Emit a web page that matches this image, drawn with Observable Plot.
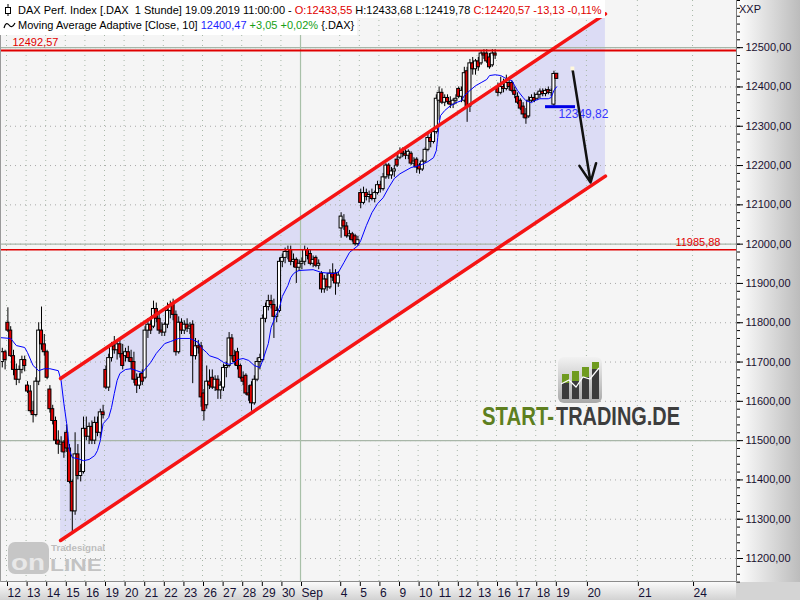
<!DOCTYPE html>
<html><head><meta charset="utf-8">
<script src="https://cdn.jsdelivr.net/npm/d3@7"></script>
<script src="https://cdn.jsdelivr.net/npm/@observablehq/plot@0.6"></script>
<style>
html,body{margin:0;padding:0;background:#fff;}
#wrap{position:relative;width:800px;height:600px;overflow:hidden;background:#f5f5f5;font-family:"Liberation Sans",Arial,sans-serif;}
.abs{position:absolute;}
.lg{position:absolute;left:0;background:#fff;font-size:11px;line-height:15px;color:#000;white-space:pre;padding-left:18px;padding-right:3px;}
</style></head>
<body>
<div id="wrap">
  <div class="abs" style="left:736px;top:0;width:64px;height:600px;background:linear-gradient(to right,#ffffff,#bcbcbc);"></div>
  <div class="abs" style="left:0;top:582px;width:736px;height:18px;background:linear-gradient(to bottom,#fbfbfb,#d2d2d2);"></div>
  <div class="abs" style="left:736px;top:582px;width:64px;height:18px;background:#d4d4d4;"></div>
  <div id="chart" class="abs" style="left:0;top:0;"></div>
  <div class="abs" style="left:736px;top:0;width:1px;height:583px;background:#7c7c7c;"></div>
  <div class="abs" style="left:0;top:581px;width:737px;height:1px;background:#8c8c8c;"></div>
  <div class="abs" style="left:0;top:0;width:1px;height:582px;background:#9a9a9a;"></div>
  <div class="lg" style="top:0;padding-top:3px;"><svg class="abs" style="left:3px;top:3px" width="10" height="14"><line x1="5" y1="1" x2="5" y2="13" stroke="#000"/><rect x="2.5" y="4.5" width="5" height="6" fill="#fff" stroke="#000"/></svg>DAX Perf. Index [.DAX  1 Stunde] 19.09.2019 11:00:00 - <span style="color:#e00000">O:12433,55</span> H:12433,68 L:12419,78 <span style="color:#e00000">C:12420,57 -13,13 -0,11%</span></div>
  <div class="lg" style="top:18px;padding-bottom:2px;"><svg class="abs" style="left:3px;top:3px" width="13" height="10"><path d="M1,7 Q3,0 6,4 T12,2" fill="none" stroke="#000" stroke-width="1.2"/></svg>Moving Average Adaptive [Close, 10] <span style="color:#1f1fff">12400,47</span> <span style="color:#16a016">+3,05 +0,02%</span> {.DAX}</div>
  <div class="abs" style="left:739px;top:3px;font-size:11px;color:#1a1030;">XXP</div>
  <svg class="abs" style="left:0;top:0;pointer-events:none" width="800" height="600">
    <defs>
      <linearGradient id="ig" x1="0" y1="0" x2="0" y2="1"><stop offset="0" stop-color="#f2f2f2"/><stop offset="1" stop-color="#a9a9a9"/></linearGradient>
    </defs>
    <rect x="558" y="357" width="44" height="46" rx="6" fill="url(#ig)"/>
    <rect x="562" y="374" width="7" height="9" fill="#6f9b1f"/><rect x="562" y="383" width="7" height="16" fill="#3b3b3b"/>
    <rect x="572" y="371" width="7" height="10" fill="#6f9b1f"/><rect x="572" y="381" width="7" height="18" fill="#3b3b3b"/>
    <rect x="582" y="367" width="7" height="10" fill="#6f9b1f"/><rect x="582" y="377" width="7" height="22" fill="#3b3b3b"/>
    <rect x="592" y="362" width="7" height="7" fill="#6f9b1f"/><rect x="592" y="369" width="7" height="30" fill="#3b3b3b"/>
    <polyline points="561,384 569,380 576,387 583,377 590,379 599,368" fill="none" stroke="#fff" stroke-width="1.2"/>
    <g transform="translate(482,425) scale(1,1.3)" font-family="Liberation Sans,Arial,sans-serif" font-weight="bold" font-size="20">
      <text x="0" y="0" fill="#5e7f1f" textLength="72" lengthAdjust="spacingAndGlyphs">START-</text>
      <text x="74" y="0" fill="#3d3d3d" textLength="124" lengthAdjust="spacingAndGlyphs">TRADING.DE</text>
    </g>
    <rect x="8" y="542" width="41" height="32" rx="7" fill="#c6c6c6"/>
    <text x="11" y="570" font-size="22" font-weight="bold" fill="#e8e8e8" font-family="Liberation Sans,Arial,sans-serif" textLength="34" lengthAdjust="spacingAndGlyphs">on</text>
    <text x="50" y="571" font-size="17" font-weight="bold" fill="#c3c3c3" font-family="Liberation Sans,Arial,sans-serif" textLength="52" lengthAdjust="spacingAndGlyphs">LINE</text>
    <text x="51" y="551" font-size="9" font-weight="bold" fill="#bdbdbd" font-family="Liberation Sans,Arial,sans-serif" textLength="54" lengthAdjust="spacingAndGlyphs">Tradesignal</text>
  </svg>
</div>
<script>
// ---- data (hourly candles, 7 per trading day, first two from 9 Aug) ----
const firstBar = -2;
const barsPerDay = 7;
const opens = [
 11700,11725,
 11800,11780,11715,11680,11655,11680,11705,
 11640,11625,11575,11565,11650,11780,11745,
 11725,11630,11580,11550,11500,11490,11495,
 11520,11480,11395,11320,11465,11410,11420,
 11530,11510,11535,11500,11545,11520,11572,
 11680,11635,11710,11740,11730,11745,11720,
 11715,11725,11710,11700,11655,11640,11670,
 11660,11780,11795,11790,11835,11810,11780,
 11775,11795,11830,11845,11820,11725,11800,
 11780,11795,11785,11795,11715,11740,11740,
 11620,11590,11650,11660,11635,11655,11628,
 11635,11685,11690,11760,11715,11725,11690,
 11660,11665,11620,11640,11595,11655,11700,
 11705,11810,11840,11855,11845,11815,11830,
 11955,11965,11980,11985,11955,11960,11940,
 11950,11955,11985,11975,11950,11965,11945,
 11925,11885,11910,11890,11925,11925,11900,
 12040,12060,12045,12020,12025,12020,12000,
 12130,12105,12130,12120,12125,12115,12130,
 12150,12140,12170,12200,12175,12185,12215,
 12220,12235,12230,12225,12230,12205,12215,
 12200,12190,12210,12240,12270,12260,12285,
 12365,12385,12360,12372,12362,12355,12365,
 12395,12375,12365,12440,12350,12460,12445,
 12465,12460,12485,12485,12475,12455,12485,
 12400,12385,12400,12395,12410,12410,12390,
 12375,12365,12350,12330,12325,12365,12372,
 12370,12380,12388,12382,12392,12385,12355,
 12433.55];
const highs = [
 11735,11730,
 11838,11790,11730,11695,11690,11715,11715,
 11650,11640,11600,11660,11800,11840,11770,
 11730,11640,11590,11560,11525,11510,11500,
 11540,11490,11400,11520,11490,11440,11560,
 11560,11545,11550,11560,11560,11580,11590,
 11690,11720,11750,11765,11750,11760,11745,
 11735,11740,11730,11725,11670,11670,11680,
 11790,11810,11815,11855,11850,11825,11800,
 11800,11850,11855,11860,11830,11815,11810,
 11805,11810,11800,11805,11760,11755,11750,
 11630,11690,11680,11680,11665,11665,11650,
 11695,11700,11775,11770,11730,11735,11695,
 11675,11670,11640,11650,11665,11710,11720,
 11820,11850,11870,11870,11860,11840,11965,
 11975,11990,11995,11995,11975,11965,11960,
 11965,11995,11990,11985,11970,11970,11960,
 11930,11920,11925,11935,11950,11935,11930,
 12080,12075,12055,12035,12030,12025,12020,
 12140,12145,12140,12135,12140,12135,12160,
 12160,12180,12205,12205,12195,12200,12225,
 12245,12245,12240,12240,12235,12220,12220,
 12205,12215,12245,12285,12280,12295,12380,
 12400,12395,12380,12380,12375,12370,12380,
 12400,12400,12450,12450,12470,12475,12470,
 12475,12490,12495,12495,12485,12495,12495,
 12410,12425,12420,12430,12420,12415,12400,
 12385,12370,12360,12345,12375,12380,12385,
 12385,12395,12395,12395,12400,12395,12440,
 12433.68];
const lows = [
 11685,11680,
 11775,11712,11665,11640,11645,11670,11675,
 11620,11570,11545,11560,11640,11730,11715,
 11655,11570,11540,11490,11465,11470,11455,
 11470,11390,11265,11310,11400,11395,11415,
 11500,11490,11490,11490,11510,11505,11555,
 11630,11625,11700,11720,11705,11710,11680,
 11700,11700,11680,11645,11620,11630,11640,
 11655,11760,11770,11785,11800,11770,11765,
 11765,11785,11810,11805,11715,11720,11770,
 11770,11775,11770,11645,11705,11720,11585,
 11550,11580,11630,11630,11625,11605,11605,
 11625,11660,11685,11705,11690,11680,11655,
 11640,11615,11600,11575,11590,11650,11680,
 11700,11800,11830,11835,11760,11800,11825,
 11940,11950,11960,11945,11940,11900,11930,
 11935,11945,11960,11945,11940,11940,11935,
 11875,11875,11880,11885,11905,11870,11890,
 12015,12035,12015,12010,12005,11995,11995,
 12090,12100,12110,12105,12110,12105,12125,
 12130,12135,12165,12165,12165,12170,12195,
 12215,12220,12215,12215,12200,12195,12180,
 12178,12185,12205,12235,12245,12255,12280,
 12315,12355,12350,12355,12345,12345,12355,
 12370,12360,12360,12310,12335,12430,12430,
 12440,12455,12470,12460,12445,12450,12470,
 12375,12380,12385,12390,12390,12385,12370,
 12355,12340,12320,12305,12320,12360,12360,
 12365,12370,12375,12375,12380,12375,12350,
 12419.78];
const closes = [
 11725,11705,
 11780,11715,11680,11655,11680,11705,11690,
 11625,11575,11565,11650,11780,11745,11725,
 11660,11580,11550,11500,11490,11495,11470,
 11480,11395,11320,11465,11410,11420,11530,
 11510,11535,11500,11545,11520,11572,11565,
 11635,11710,11740,11730,11745,11720,11690,
 11725,11710,11700,11655,11640,11660,11650,
 11780,11795,11780,11835,11810,11780,11775,
 11795,11830,11845,11820,11725,11800,11780,
 11795,11785,11790,11715,11740,11735,11610,
 11575,11650,11640,11635,11655,11628,11640,
 11685,11690,11760,11715,11700,11690,11660,
 11650,11620,11615,11595,11655,11700,11710,
 11810,11840,11855,11845,11815,11830,11955,
 11965,11980,11985,11955,11960,11940,11950,
 11955,11985,11970,11950,11960,11945,11950,
 11885,11910,11890,11925,11915,11900,11920,
 12070,12045,12020,12025,12010,12000,12010,
 12105,12130,12120,12125,12115,12130,12150,
 12140,12170,12200,12175,12185,12190,12200,
 12235,12230,12225,12235,12205,12210,12195,
 12190,12210,12240,12270,12260,12285,12370,
 12385,12360,12372,12362,12355,12365,12370,
 12375,12390,12435,12350,12460,12445,12465,
 12450,12485,12480,12465,12450,12485,12480,
 12385,12400,12395,12410,12400,12390,12380,
 12360,12345,12330,12320,12365,12372,12365,
 12380,12388,12382,12390,12385,12390,12433,
 12420.57];

// Adaptive moving average, bar index -> value
const maBars = [-2.5,1,3,6,7,9,11,13,15,18,19,20,21,22,23,25,27,29,31,32,33,34,36,37,38,39,40,42,44,46,48,51,53,56,58,61,65,68,69,71,72,75,77,79,81,82,84,86,88,90,91,93,94,95,96,97,98,100,101,102,103,104,109,112,116,118,120,122,125,126,128,130,132,134,136,138,140,144,147,150,152,153,153.5,154,154.5,156,158,160,162,163,165,167,169,171,172,174,176,178,180,181,182,184,185,187,188,190,193,194,195,196];
const maValues = [11762,11760,11742,11737,11724,11691,11678,11683,11683,11678,11653,11594,11543,11475,11457,11454,11449,11452,11462,11475,11500,11543,11559,11584,11620,11653,11671,11681,11683,11678,11673,11699,11722,11747,11752,11760,11760,11750,11737,11724,11716,11709,11699,11694,11699,11706,11709,11704,11691,11686,11704,11747,11788,11806,11823,11839,11867,11895,11915,11925,11930,11933,11935,11928,11925,11928,11953,11979,11996,12009,12047,12080,12103,12118,12144,12167,12179,12195,12200,12210,12220,12238,12271,12307,12327,12340,12352,12360,12365,12378,12391,12403,12411,12419,12429,12431,12429,12421,12416,12403,12391,12373,12365,12360,12365,12370,12370,12373,12391,12400.47];

// trend channel (bar index, upper value, lower value)
const channelBars = [18.8, 213.4];
const channelUpper = [11658, 12586];
const channelLower = [11246, 12173];

// horizontal levels
const resistance = 12492.57;
const support = 11985.88;
const roundLevels = [11500, 12000, 12500];
const lowLevel = 12349.82;
const lowLevelBars = [192, 202.7];
const lowLabelBar = 196.6;

// projection arrow (bar, value)
const arrowFrom = [201.6, 12447];
const arrowTo = [208.1, 12157];

// axis ticks
const yTicks = d3.range(11200, 12501, 100);
const yMinor = d3.range(11140, 12621, 20);
const dayLabels = ["12","13","14","15","16","19","20","21","22","23","26","27","28","29","30","Sep","","4","5","6","9","10","11","12","13","16","17","18","19"];
const futureLabels = ["20","21","24"];
const futureTickBars = [206.6, 224.8, 244.5];
const monthStartDay = 15;

// ---- build ----
const candles = opens.map((o, i) => ({b: i + firstBar, o, h: highs[i], l: lows[i], c: closes[i]}));
const ma = maBars.map((b, i) => ({b, v: maValues[i]}));
const channel = channelBars.map((b, i) => ({b, hi: channelUpper[i], lo: channelLower[i]}));
const lowMark = [{b1: lowLevelBars[0], b2: lowLevelBars[1], bl: lowLabelBar, v: lowLevel}];
const arrowData = [{b1: arrowFrom[0], v1: arrowFrom[1], b2: arrowTo[0], v2: arrowTo[1]}];
const xTicks = dayLabels.map((lab, d) => ({b: d * barsPerDay - 0.5, lab})).filter(t => t.lab)
  .concat(futureLabels.map((lab, i) => ({b: futureTickBars[i], lab})));
const tickLab = new Map(xTicks.map(t => [t.b, t.lab]));
const fmtDE = v => v.toFixed(2).replace(".", ",");

const chart = Plot.plot({
  width: 800, height: 600,
  marginLeft: 0, marginRight: 64, marginTop: 0, marginBottom: 18,
  x: {type: "linear", domain: [-2.643, 260.2]},
  y: {type: "linear", domain: [11139, 12620]},
  style: {background: "transparent", fontFamily: "Liberation Sans, Arial, sans-serif", fontSize: "11px", overflow: "visible"},
  marks: [
    Plot.areaY(channel, {x: "b", y1: "lo", y2: "hi", fill: "#dcdcf5"}),
    Plot.ruleY(yTicks, {stroke: "#a8a8a8", strokeDasharray: "1,4"}),
    Plot.ruleX(xTicks.map(t => t.b), {stroke: "#a8b8a8", strokeDasharray: "1,4"}),
    Plot.ruleY(roundLevels, {stroke: "#a8b6a8", strokeWidth: 1.2}),
    Plot.ruleX([monthStartDay * barsPerDay - 0.5], {stroke: "#a8c0a8", strokeWidth: 1.2}),
    Plot.ruleX(candles, {x: "b", y1: "l", y2: "h", stroke: "#000", strokeWidth: 1}),
    Plot.rect(candles, {x1: d => d.b - 0.55, x2: d => d.b + 0.55, y1: "o", y2: "c",
      fill: d => d.c >= d.o ? "#ffffff" : "#e00000", stroke: "#000", strokeWidth: 1}),
    Plot.line(ma, {x: "b", y: "v", stroke: "#0000ff", strokeWidth: 1}),
    Plot.line(channel, {x: "b", y: "hi", stroke: "#f51414", strokeWidth: 3.5}),
    Plot.line(channel, {x: "b", y: "lo", stroke: "#f51414", strokeWidth: 3.5}),
    Plot.ruleY([resistance], {stroke: "#e00000", strokeWidth: 2}),
    Plot.ruleY([support], {stroke: "#e00000", strokeWidth: 1.5}),
    Plot.text([resistance], {frameAnchor: "left", y: d => d, text: d => fmtDE(d), dx: 12, dy: -8, textAnchor: "start", fill: "#e00000", fontSize: 11}),
    Plot.text([support], {frameAnchor: "right", y: d => d, text: d => fmtDE(d), dx: -16, dy: -7, textAnchor: "end", fill: "#e00000", fontSize: 11}),
    Plot.ruleY(lowMark, {y: "v", x1: "b1", x2: "b2", stroke: "#0000e6", strokeWidth: 3}),
    Plot.text(lowMark, {x: "bl", y: "v", text: d => fmtDE(d.v), dy: 7, textAnchor: "start", fill: "#3535ff", fontSize: 12}),
    Plot.arrow(arrowData, {x1: "b1", y1: "v1", x2: "b2", y2: "v2", stroke: "#111", strokeWidth: 2.5, headLength: 12, headAngle: 50}),
    Plot.dot(arrowData, {x: "b1", y: "v1", symbol: "square", r: 2.2, fill: "#fff8dc"}),
    Plot.axisY(yTicks, {anchor: "right", tickSize: 6, tickPadding: 3, tickFormat: fmtDE, fontSize: 11, stroke: "#000", fill: "#1a1030", label: null}),
    Plot.axisY(yMinor, {anchor: "right", tickSize: 3, tickFormat: () => "", stroke: "#000", label: null}),
    Plot.axisX(xTicks.map(t => t.b), {anchor: "bottom", tickSize: 4, tickPadding: 2, tickFormat: b => tickLab.get(b), textAnchor: "start", dx: 1, fontSize: 12, stroke: "#000", fill: "#141034", label: null})
  ]
});
document.getElementById("chart").appendChild(chart);
</script>
</body></html>
